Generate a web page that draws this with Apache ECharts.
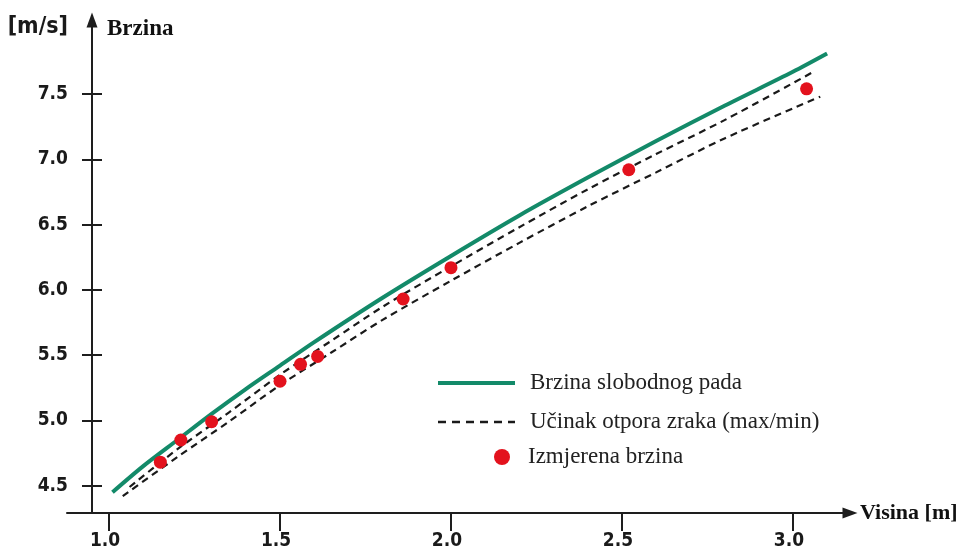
<!DOCTYPE html>
<html>
<head>
<meta charset="utf-8">
<script src="https://cdn.jsdelivr.net/npm/echarts@6/dist/echarts.min.js"></script>
<style>
html,body{margin:0;padding:0;background:#fff;}
#chart{width:963px;height:554px;}
</style>
</head>
<body>
<div id="chart"></div>
<script>
// ---- data ----
const xTicks = [1.0, 1.5, 2.0, 2.5, 3.0];
const yTicks = [4.5, 5.0, 5.5, 6.0, 6.5, 7.0, 7.5];

const freeFallH = [1.01, 1.1, 1.2, 1.3, 1.4, 1.5, 1.6, 1.8, 2.0, 2.2, 2.4, 2.6, 2.8, 3.0, 3.1];
const freeFallV = [4.45, 4.65, 4.85, 5.05, 5.24, 5.42, 5.60, 5.94, 6.26, 6.57, 6.86, 7.14, 7.41, 7.67, 7.81];

const dragMaxH = [1.06, 1.2, 1.35, 1.5, 1.65, 1.8, 2.0, 2.2, 2.4, 2.6, 2.8, 3.06];
const dragMaxV = [4.49, 4.78, 5.06, 5.35, 5.61, 5.87, 6.18, 6.48, 6.77, 7.04, 7.30, 7.67];

const dragMinH = [1.04, 1.2, 1.35, 1.5, 1.65, 1.8, 2.0, 2.2, 2.4, 2.6, 2.8, 3.08];
const dragMinV = [4.42, 4.72, 4.99, 5.27, 5.52, 5.77, 6.07, 6.36, 6.64, 6.90, 7.16, 7.48];

const measH = [1.15, 1.21, 1.30, 1.50, 1.56, 1.61, 1.86, 2.00, 2.52, 3.04];
const measV = [4.68, 4.85, 4.99, 5.30, 5.43, 5.49, 5.93, 6.17, 6.92, 7.54];

const nameFree = 'Brzina slobodnog pada';
const nameDrag = 'Učinak otpora zraka (max/min)';
const nameMeas = 'Izmjerena brzina';

// ---- build ----
const zip = (a, b) => a.map((v, i) => [v, b[i]]);
const AX = '#1e1e1e';
const GREEN = '#138a69';
const RED = '#e3121d';
const DASH = '#1a1a1a';
const tickFont = "'Liberation Sans Narrow','DejaVu Sans Condensed','Liberation Sans',sans-serif";
const serif = "'Liberation Serif','Times New Roman',serif";

const chart = echarts.init(document.getElementById('chart'), null, {renderer: 'canvas'});
chart.setOption({
  animation: false,
  backgroundColor: '#ffffff',
  grid: {left: 67, right: 113, top: 20, bottom: 41, containLabel: false, outerBoundsMode: 'none'},
  xAxis: {
    type: 'value', min: 0.877, max: 3.167,
    name: 'Visina [m]', nameLocation: 'end', nameGap: 10,
    nameTextStyle: {fontFamily: serif, fontWeight: 'bold', fontSize: 22, color: '#111', align: 'left', verticalAlign: 'middle'},
    axisLine: {show: true, symbol: ['none', 'triangle'], symbolSize: [11, 15], lineStyle: {color: AX, width: 2}},
    axisTick: {show: true, length: 18, lineStyle: {color: AX, width: 2}, customValues: xTicks},
    axisLabel: {show: true, margin: 19, customValues: xTicks, formatter: v => v.toFixed(1),
      fontFamily: tickFont, fontWeight: 'bold', fontSize: 19, color: '#1a1a1a', padding: [0, 8, 0, 0]},
    splitLine: {show: false}
  },
  yAxis: [{
    type: 'value', min: 4.291, max: 8.067, offset: -25,
    name: 'Brzina', nameLocation: 'end', nameGap: -9,
    nameTextStyle: {fontFamily: serif, fontWeight: 'bold', fontSize: 23, color: '#111', align: 'left', verticalAlign: 'middle', padding: [0, 0, 0, 15]},
    axisLine: {show: true, symbol: ['none', 'triangle'], symbolSize: [11, 15], lineStyle: {color: AX, width: 2}},
    axisTick: {show: true, length: 10, lineStyle: {color: AX, width: 2}, customValues: yTicks},
    axisLabel: {show: true, margin: 24, customValues: yTicks, formatter: v => v.toFixed(1),
      fontFamily: tickFont, fontWeight: 'bold', fontSize: 19, color: '#1a1a1a'},
    splitLine: {show: false}
  }, {
    type: 'value', min: 4.291, max: 8.067, offset: -25, position: 'left',
    name: '[m/s]', nameLocation: 'end', nameGap: -7,
    nameTextStyle: {fontFamily: tickFont, fontWeight: 'bold', fontSize: 23, color: '#1a1a1a', align: 'right', verticalAlign: 'middle', padding: [0, 24, 0, 0]},
    axisLine: {show: false},
    axisTick: {show: true, inside: true, length: 10, lineStyle: {color: AX, width: 2}, customValues: yTicks},
    axisLabel: {show: false},
    splitLine: {show: false}
  }],
  legend: [{
    data: [
      {name: nameFree, lineStyle: {width: 4, color: GREEN}},
      {name: nameDrag, lineStyle: {width: 2.4, color: DASH, type: [8, 6]}}
    ],
    orient: 'vertical', left: 431, top: 365,
    itemWidth: 77, itemHeight: 14, itemGap: 13,
    itemStyle: {color: 'rgba(0,0,0,0)', borderWidth: 0, opacity: 0},
    textStyle: {fontFamily: serif, fontSize: 23, color: '#222', lineHeight: 26, padding: [0, 0, 0, 10]}
  }, {
    data: [{name: nameMeas, icon: 'circle'}],
    orient: 'vertical', left: 489, top: 439,
    itemWidth: 16, itemHeight: 16,
    textStyle: {fontFamily: serif, fontSize: 23, color: '#222', lineHeight: 26, padding: [0, 0, 0, 13]}
  }],
  series: [{
    name: nameFree, type: 'line', data: zip(freeFallH, freeFallV),
    symbol: 'none', smooth: 0.3,
    lineStyle: {color: GREEN, width: 4}, itemStyle: {color: GREEN}, z: 3
  }, {
    name: nameDrag, type: 'line', data: zip(dragMaxH, dragMaxV),
    symbol: 'none', smooth: 0.3,
    lineStyle: {color: DASH, width: 2.2, type: [7, 5]}, itemStyle: {color: DASH}, z: 2
  }, {
    name: nameDrag, type: 'line', data: zip(dragMinH, dragMinV),
    symbol: 'none', smooth: 0.3,
    lineStyle: {color: DASH, width: 2.2, type: [7, 5]}, itemStyle: {color: DASH}, z: 2
  }, {
    name: nameMeas, type: 'scatter', data: zip(measH, measV),
    symbol: 'circle', symbolSize: 13, itemStyle: {color: RED, opacity: 1}, z: 4
  }]
});
</script>
</body>
</html>
